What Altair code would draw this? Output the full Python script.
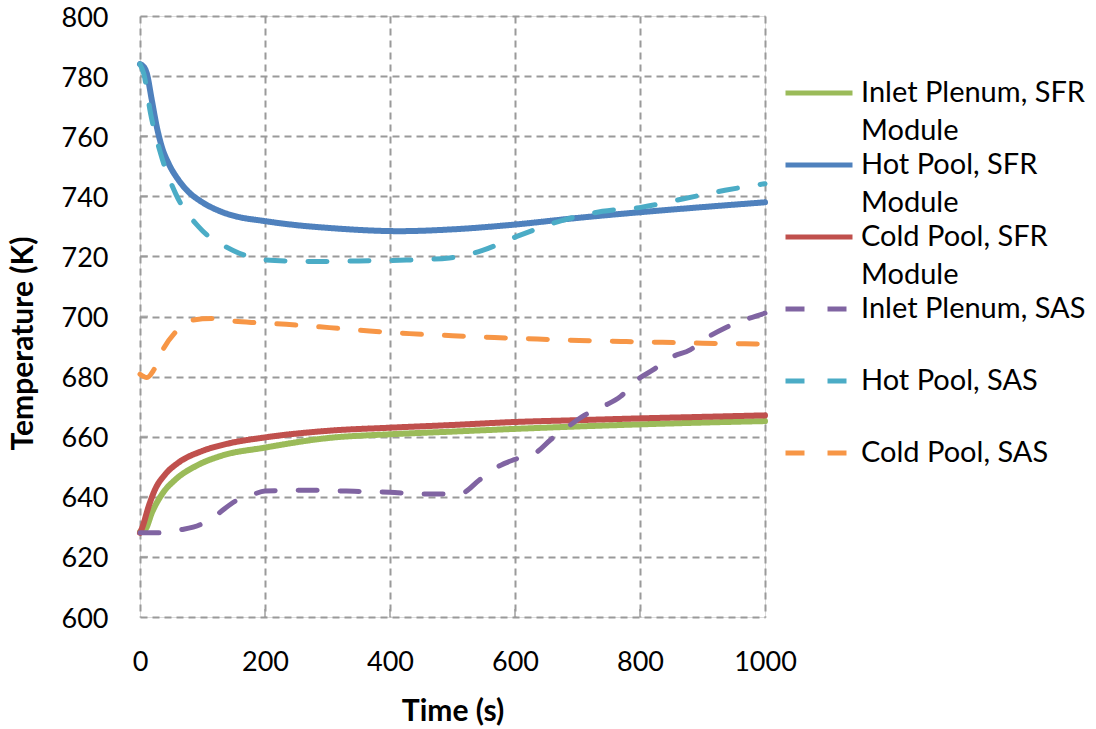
import altair as alt
import pandas as pd

# Series names (legend order)
names = [
    "Inlet Plenum, SFR Module",
    "Hot Pool, SFR Module",
    "Cold Pool, SFR Module",
    "Inlet Plenum, SAS",
    "Hot Pool, SAS",
    "Cold Pool, SAS",
]
colors = ["#9BBB59", "#4F81BD", "#C0504D", "#8064A2", "#4BACC6", "#F79646"]
dashes = [[1, 0], [1, 0], [1, 0], [19, 23], [19, 23], [19, 23]]
widths = [6, 6, 6, 5, 5, 5]

# Time (s) / temperature (K) per series
t_inlet_sfr = [0, 9, 19, 35, 57, 89, 131, 198, 303, 399, 500, 600, 700, 800, 900, 1000]
T_inlet_sfr = [628.3, 629.3, 634.7, 640.8, 645.8, 650.2, 653.7, 656.3, 659.6, 660.8,
               661.7, 662.6, 663.4, 664.1, 664.7, 665.2]

t_hot_sfr = [0, 3.5, 11, 19, 27, 35, 46, 62, 78, 99, 126, 152, 198, 250, 300, 415, 500,
             600, 700, 800, 900, 1000]
T_hot_sfr = [784.0, 783.6, 780.8, 771.9, 763.0, 756.4, 750.8, 745.3, 741.4, 738.1,
             735.2, 733.4, 731.8, 730.4, 729.5, 728.4, 729.0, 730.6, 732.8, 734.7,
             736.4, 738.0]

t_cold_sfr = [0, 3.5, 14, 24, 40, 61, 99, 141, 198, 303, 400, 500, 600, 700, 800, 900, 1000]
T_cold_sfr = [628.0, 629.7, 636.9, 642.4, 647.4, 651.3, 655.2, 657.7, 659.7, 662.0,
              663.0, 663.9, 664.9, 665.5, 666.1, 666.6, 667.1]

t_inlet_sas = [0, 25, 64, 96, 123, 152, 181, 200, 266, 330, 399, 463, 513, 543, 569,
               599, 633, 657, 684, 710, 740, 769, 793, 822, 849, 881, 907, 936, 968, 1000]
T_inlet_sas = [628.0, 628.0, 629.0, 630.7, 634.1, 638.5, 640.8, 641.9, 642.2, 641.9,
               641.5, 640.9, 641.1, 645.6, 649.6, 652.4, 654.6, 659.0, 663.2, 667.0,
               670.0, 673.4, 678.5, 682.4, 686.3, 689.0, 692.9, 696.2, 698.9, 701.1]

t_hot_sas = [0, 6, 17, 33, 57, 94, 149, 198, 250, 300, 350, 415, 495, 548, 600, 676,
             740, 803, 870, 936, 1000]
T_hot_sas = [784.0, 780.8, 767.5, 754.2, 740.9, 729.8, 722.0, 718.9, 718.4, 718.3,
             718.5, 718.7, 719.5, 722.0, 726.4, 732.0, 735.0, 736.4, 739.2, 742.0, 744.2]

t_cold_sas = [0, 11, 22, 37, 56, 83, 115, 149, 181, 234, 303, 367, 431, 500, 567, 636,
              703, 770, 836, 900, 968, 1000]
T_cold_sas = [680.8, 679.7, 682.2, 689.1, 694.6, 698.8, 699.3, 698.5, 698.0, 697.4,
              696.3, 695.2, 694.3, 693.6, 693.0, 692.5, 692.0, 691.7, 691.4, 691.1,
              690.9, 690.8]

series_data = [
    (t_inlet_sfr, T_inlet_sfr),
    (t_hot_sfr, T_hot_sfr),
    (t_cold_sfr, T_cold_sfr),
    (t_inlet_sas, T_inlet_sas),
    (t_hot_sas, T_hot_sas),
    (t_cold_sas, T_cold_sas),
]

x_ticks = [0, 200, 400, 600, 800, 1000]
y_ticks = list(range(600, 801, 20))

GRID = "#9a9a9a"
FONT = "Lato"

x_scale = alt.Scale(domain=[0, 1000], nice=False)
y_scale = alt.Scale(domain=[600, 800], nice=False, zero=False)

x_axis = alt.Axis(
    values=x_ticks, format="d", title="Time (s)", grid=True, gridColor=GRID,
    gridDash=[7, 5], gridWidth=2, domain=False, ticks=False, tickSize=0,
    labelFlush=False, labelFont=FONT, labelFontSize=27, labelColor="black",
    labelPadding=53, labelBaseline="alphabetic", titleFont=FONT, titleFontSize=30,
    titleFontWeight="bold", titleColor="black", titleBaseline="alphabetic",
    titleY=103,
)
y_axis = alt.Axis(
    values=y_ticks, format="d", title="Temperature (K)", grid=True, gridColor=GRID,
    gridDash=[7, 5], gridWidth=2, domain=False, ticks=False, tickSize=0,
    labelFlush=False, labelOffset=2, labelFont=FONT, labelFontSize=27,
    labelColor="black", labelPadding=32, titleFont=FONT, titleFontSize=30,
    titleFontWeight="bold", titleColor="black", titleBaseline="alphabetic",
    titleX=-108, titleY=327,
)

legend = alt.Legend(
    title=None, orient="none", legendX=643, legendY=62, symbolType="stroke",
    symbolSize=4489, symbolStrokeWidth=5, labelFont=FONT, labelFontSize=29,
    labelColor="black", labelLimit=0, labelOffset=6, symbolOffset=0,
    padding=0, rowPadding=4, clipHeight=30, gridAlign="all",
    labelExpr="indexof(datum.label, ' Module') > 0 ? "
              "[replace(datum.label, ' Module', ''), 'Module'] : [datum.label, '']",
)

layers = []
for name, w, (ts, Ts) in zip(names, widths, series_data):
    df = pd.DataFrame({"t": ts, "T": Ts, "series": name})
    layers.append(
        alt.Chart(df).mark_line(strokeWidth=w, strokeCap="round", interpolate="monotone")
        .encode(
            x=alt.X("t:Q", scale=x_scale, axis=x_axis),
            y=alt.Y("T:Q", scale=y_scale, axis=y_axis),
            color=alt.Color("series:N", scale=alt.Scale(domain=names, range=colors),
                            legend=legend),
            strokeDash=alt.StrokeDash("series:N",
                                      scale=alt.Scale(domain=names, range=dashes),
                                      legend=legend),
        )
    )

# Short inward tick marks along the bottom and left edges
xt = alt.Chart(pd.DataFrame({"v": x_ticks[1:-1]})).mark_tick(
    orient="vertical", size=8, thickness=2, color=GRID
).encode(x=alt.X("v:Q", scale=x_scale), y=alt.value(597))
yt = alt.Chart(pd.DataFrame({"v": y_ticks[1:-1]})).mark_tick(
    orient="horizontal", size=8, thickness=2, color=GRID
).encode(y=alt.Y("v:Q", scale=y_scale), x=alt.value(4))

chart = (
    alt.layer(xt, yt, *layers)
    .properties(
        width=625, height=601,
        autosize=alt.AutoSizeParams(type="none"),
        padding={"left": 140, "top": 16, "right": 331, "bottom": 112},
        background="white",
    )
    .configure_view(stroke="#999999", strokeWidth=3)
    .configure(style={"guide-label": {"lineHeight": 38}})
)

chart.save("out.html", embed_options={"renderer": "svg", "actions": False})
